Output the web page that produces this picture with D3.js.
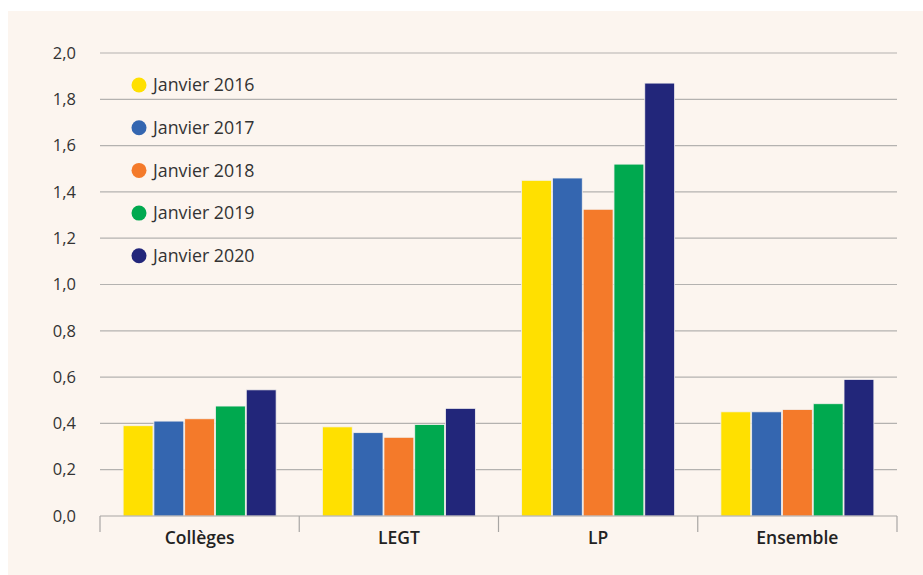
<!DOCTYPE html>
<html>
<head>
<meta charset="utf-8">
<script src="https://cdn.jsdelivr.net/npm/d3@7"></script>
<style>
  body { margin: 0; background: #fff; }
  svg { display: block; font-family: "Open Sans", sans-serif; }
</style>
</head>
<body>
<svg id="chart" width="923" height="575"></svg>
<script>
const categories = ["Collèges", "LEGT", "LP", "Ensemble"];
const series = ["Janvier 2016", "Janvier 2017", "Janvier 2018", "Janvier 2019", "Janvier 2020"];
const colors = ["#ffe000", "#3466b0", "#f47a2a", "#00a94f", "#22267a"];
const values = [
  [0.39, 0.41, 0.42, 0.475, 0.545],   // Collèges
  [0.385, 0.36, 0.34, 0.395, 0.465],  // LEGT
  [1.45, 1.46, 1.325, 1.52, 1.87],    // LP
  [0.45, 0.45, 0.46, 0.485, 0.59]     // Ensemble
];
const yTicks = [0, 0.2, 0.4, 0.6, 0.8, 1.0, 1.2, 1.4, 1.6, 1.8, 2.0];

const svg = d3.select("#chart");

svg.append("rect")
  .attr("x", 8).attr("y", 11)
  .attr("width", 915).attr("height", 564)
  .attr("fill", "#fcf5ef");

const plot = { left: 100, right: 897, top: 53, bottom: 516 };

const x = d3.scaleBand().domain(categories).range([plot.left, plot.right]);
const xs = d3.scaleBand().domain(series).range([0, 153]).paddingInner(0.03);
const y = d3.scaleLinear().domain([0, 2]).range([plot.bottom, plot.top]);

// gridlines
svg.append("g")
  .selectAll("line")
  .data(yTicks.slice(1))
  .join("line")
  .attr("x1", plot.left).attr("x2", plot.right)
  .attr("y1", d => y(d)).attr("y2", d => y(d))
  .attr("stroke", "#b4b2b0")
  .attr("stroke-width", 1.2);

// y labels
svg.append("g")
  .selectAll("text")
  .data(yTicks)
  .join("text")
  .attr("x", 76)
  .attr("y", d => y(d))
  .attr("dy", "0.35em")
  .attr("text-anchor", "end")
  .attr("font-size", 16.5)
  .attr("fill", "#333")
  .text(d => d3.format(".1f")(d).replace(".", ","));

// bars
const groups = svg.append("g")
  .selectAll("g")
  .data(categories)
  .join("g")
  .attr("transform", d => `translate(${x(d) + (x.bandwidth() - 153) / 2},0)`);

groups.selectAll("rect")
  .data((d, i) => values[i].map((v, j) => ({ s: series[j], v, c: colors[j] })))
  .join("rect")
  .attr("x", d => xs(d.s))
  .attr("y", d => y(d.v))
  .attr("width", xs.bandwidth())
  .attr("height", d => y(0) - y(d.v))
  .attr("fill", d => d.c)
  .attr("stroke", "#f4f1ee")
  .attr("stroke-width", 0.8);

// x axis
const xAxis = svg.append("g").attr("transform", `translate(0,${plot.bottom})`);
xAxis.append("line")
  .attr("x1", plot.left).attr("x2", plot.right)
  .attr("stroke", "#a8a6a4").attr("stroke-width", 1.2);
xAxis.selectAll("line.tick")
  .data([plot.left].concat(categories.map(c => x(c) + x.bandwidth())))
  .join("line")
  .attr("class", "tick")
  .attr("x1", d => d).attr("x2", d => d)
  .attr("y1", 0).attr("y2", 16)
  .attr("stroke", "#a8a6a4").attr("stroke-width", 1.2);
xAxis.selectAll("text")
  .data(categories)
  .join("text")
  .attr("x", d => x(d) + x.bandwidth() / 2)
  .attr("y", 28)
  .attr("text-anchor", "middle")
  .attr("font-size", 17.5)
  .attr("font-weight", 600)
  .attr("fill", "#222")
  .text(d => d);

// legend
const legend = svg.append("g")
  .selectAll("g")
  .data(series)
  .join("g")
  .attr("transform", (d, i) => `translate(139,${85 + i * 42.7})`);
legend.append("circle")
  .attr("r", 7.5)
  .attr("fill", (d, i) => colors[i]);
legend.append("text")
  .attr("x", 14)
  .attr("dy", "0.35em")
  .attr("font-size", 17.8)
  .attr("fill", "#333")
  .text(d => d);
</script>
</body>
</html>
